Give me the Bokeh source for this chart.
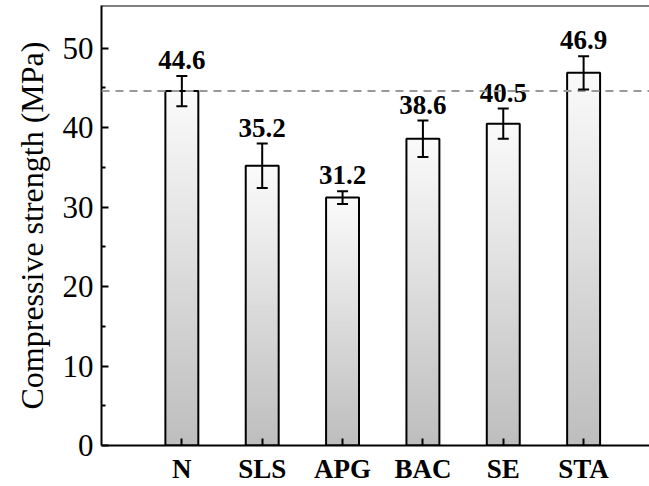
import numpy as np
from bokeh.plotting import figure
from bokeh.models import ColumnDataSource, Range1d, FixedTicker, Span, Whisker, TeeHead
from bokeh.core.properties import value
from bokeh.embed import file_html
from bokeh.resources import INLINE

categories = ["N", "SLS", "APG", "BAC", "SE", "STA"]
strength = [44.6, 35.2, 31.2, 38.6, 40.5, 46.9]
errors = [1.9, 2.8, 0.8, 2.3, 1.9, 2.1]
value_labels = ["44.6", "35.2", "31.2", "38.6", "40.5", "46.9"]
y_ticks = [0, 10, 20, 30, 40, 50]
y_minor = [5, 15, 25, 35, 45]
reference_level = 44.6

positions = list(range(1, len(categories) + 1))
FONT = "Liberation Serif"
Y_END = 55.375

p = figure(width=649, height=486, x_range=Range1d(0, 6.82), y_range=Range1d(0, Y_END),
           output_backend="svg", toolbar_location=None,
           min_border_left=101, min_border_right=0, min_border_top=5, min_border_bottom=38)
p.outline_line_color = None
p.xgrid.visible = False
p.ygrid.visible = False
p.background_fill_color = "white"
p.border_fill_color = "white"

# gradient bars (white top -> gray bottom), overlapping slices to avoid seams
n = 60
top_c = np.array([251, 251, 251])
bot_c = np.array([190, 190, 190])
L, R, B, T, C = [], [], [], [], []
bw = 0.41
for x, v in zip(positions, strength):
    for k in range(n):
        f = (k + 0.5) / n
        c = (bot_c + (top_c - bot_c) * f).astype(int)
        L.append(x - bw / 2); R.append(x + bw / 2)
        B.append(v * k / n); T.append(v)
        C.append("#%02x%02x%02x" % tuple(c))
p.quad(left=L, right=R, bottom=B, top=T, fill_color=C, line_color=None)
p.vbar(x=positions, top=strength, width=bw, fill_color=None, line_color="black", line_width=2)

# reference dashed line
p.add_layout(Span(location=reference_level, dimension="width", line_color="#999999",
                  line_dash="8 6", line_width=2))

# error bars
upper = [v + e for v, e in zip(strength, errors)]
lower = [v - e for v, e in zip(strength, errors)]
src = ColumnDataSource(dict(x=positions, upper=upper, lower=lower))
p.add_layout(Whisker(base="x", upper="upper", lower="lower", source=src, line_width=2,
                     line_color="black", level="annotation",
                     upper_head=TeeHead(size=11, line_width=2, line_color="black"),
                     lower_head=TeeHead(size=11, line_width=2, line_color="black")))

# value labels
p.text(x=positions, y=upper, text=value_labels, text_align="center",
       text_baseline="alphabetic", y_offset=-16, text_font=value(FONT),
       text_font_style="bold", text_font_size="27px", text_color="black")

# top border
p.add_layout(Span(location=Y_END, dimension="width", line_color="black", line_width=2))

# axes
for ax in (p.xaxis[0], p.yaxis[0]):
    ax.axis_line_width = 2
    ax.axis_line_color = "black"
    ax.major_tick_line_width = 2
    ax.minor_tick_line_width = 2
    ax.major_tick_in = 7
    ax.major_tick_out = 0
    ax.minor_tick_in = 4
    ax.minor_tick_out = 0
    ax.major_label_text_font = FONT
    ax.major_label_text_color = "black"

p.xaxis.ticker = FixedTicker(ticks=positions)
p.xaxis.major_label_overrides = {x: c for x, c in zip(positions, categories)}
p.xaxis.major_label_text_font_style = "bold"
p.xaxis.major_label_text_font_size = "27px"
p.xaxis.major_label_standoff = 8
p.xaxis.minor_tick_line_color = None

p.yaxis.ticker = FixedTicker(ticks=y_ticks, minor_ticks=y_minor)
p.yaxis.major_label_text_font_size = "31px"
p.yaxis.major_label_standoff = 8
p.yaxis.axis_label = "Compressive strength (MPa)"
p.yaxis.axis_label_text_font = FONT
p.yaxis.axis_label_text_font_style = "normal"
p.yaxis.axis_label_text_font_size = "32px"
p.yaxis.axis_label_text_color = "black"
p.yaxis.axis_label_standoff = 10

open("out.html", "w").write(file_html(p, INLINE))
